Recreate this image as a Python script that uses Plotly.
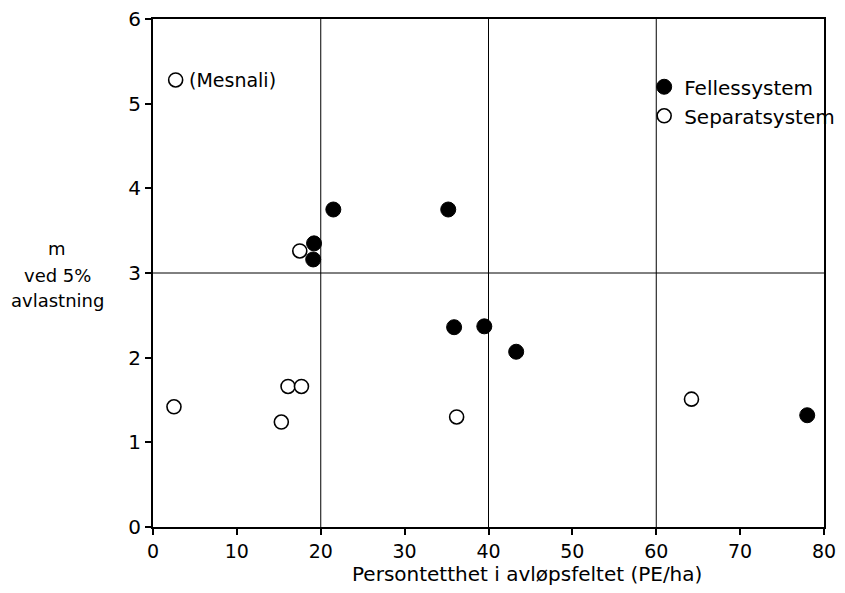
import plotly.graph_objects as go

# Data
felles_x = [19.2, 19.1, 21.5, 35.2, 35.9, 39.5, 43.3, 78.0]
felles_y = [3.35, 3.16, 3.75, 3.75, 2.36, 2.37, 2.07, 1.32]
sep_x = [2.7, 2.5, 15.3, 16.1, 17.7, 17.5, 36.2, 64.2]
sep_y = [5.28, 1.42, 1.24, 1.66, 1.66, 3.26, 1.30, 1.51]
sep_labels = ["(Mesnali)", "", "", "", "", "", "", ""]

x_ticks = [0, 10, 20, 30, 40, 50, 60, 70, 80]
y_ticks = [0, 1, 2, 3, 4, 5, 6]
grid_x = [20, 40, 60]
grid_y = [3]

x_title = "Persontetthet i avløpsfeltet (PE/ha)"
y_title_lines = ["m", "ved 5%", "avlastning"]
series_names = ["Fellessystem", "Separatsystem"]

FONT = "DejaVu Sans"

fig = go.Figure()
fig.add_trace(go.Scatter(
    x=felles_x, y=felles_y, mode="markers", name=series_names[0],
    marker=dict(size=15, color="black", line=dict(color="black", width=1)),
))
fig.add_trace(go.Scatter(
    x=sep_x, y=sep_y, mode="markers", name=series_names[1],
    marker=dict(size=14, color="white", line=dict(color="black", width=1.6)),
))

shapes = []
for gx in grid_x:
    shapes.append(dict(type="line", xref="x", yref="paper", x0=gx, x1=gx, y0=0, y1=1,
                       line=dict(color="black", width=1), layer="below"))
for gy in grid_y:
    shapes.append(dict(type="line", xref="paper", yref="y", x0=0, x1=1, y0=gy, y1=gy,
                       line=dict(color="black", width=1), layer="below"))

annotations = []
for xv, yv, t in zip(sep_x, sep_y, sep_labels):
    if t:
        annotations.append(dict(text=t, x=xv, y=yv, xref="x", yref="y",
                                xanchor="left", yanchor="middle", xshift=11,
                                showarrow=False,
                                font=dict(family=FONT, size=19, color="black")))
for txt, yp in zip(y_title_lines, [0.549, 0.496, 0.445]):
    annotations.append(dict(text=txt, xref="paper", yref="paper", x=-0.143, y=yp,
                            xanchor="center", yanchor="middle", showarrow=False,
                            font=dict(family=FONT, size=18, color="black")))
annotations.append(dict(text=x_title, xref="paper", yref="paper", x=0.558, y=-0.093,
                        xanchor="center", yanchor="middle", showarrow=False,
                        font=dict(family=FONT, size=20, color="black")))

fig.update_layout(
    width=829, height=577,
    margin=dict(l=145, r=13, t=11, b=58, autoexpand=False),
    paper_bgcolor="white", plot_bgcolor="white",
    font=dict(family=FONT, size=20, color="black"),
    shapes=shapes, annotations=annotations,
    legend=dict(x=0.732, y=0.905, xanchor="left", yanchor="top",
                bgcolor="rgba(0,0,0,0)", font=dict(family=FONT, size=20),
                itemwidth=30, tracegroupgap=0),
    showlegend=True,
)
fig.update_xaxes(range=[0, 80], tickvals=x_ticks, showgrid=False, zeroline=False,
                 showline=True, linecolor="black", linewidth=2, mirror=True,
                 ticks="outside", ticklen=6, tickwidth=2, tickcolor="black",
                 tickfont=dict(family=FONT, size=19), automargin=False,
                 ticklabeloverflow="allow")
fig.update_yaxes(range=[0, 6], tickvals=y_ticks, showgrid=False, zeroline=False,
                 showline=True, linecolor="black", linewidth=2, mirror=True,
                 ticks="outside", ticklen=6, tickwidth=2, tickcolor="black",
                 tickfont=dict(family=FONT, size=20), automargin=False,
                 ticklabeloverflow="allow")

fig.write_html("out.html")
